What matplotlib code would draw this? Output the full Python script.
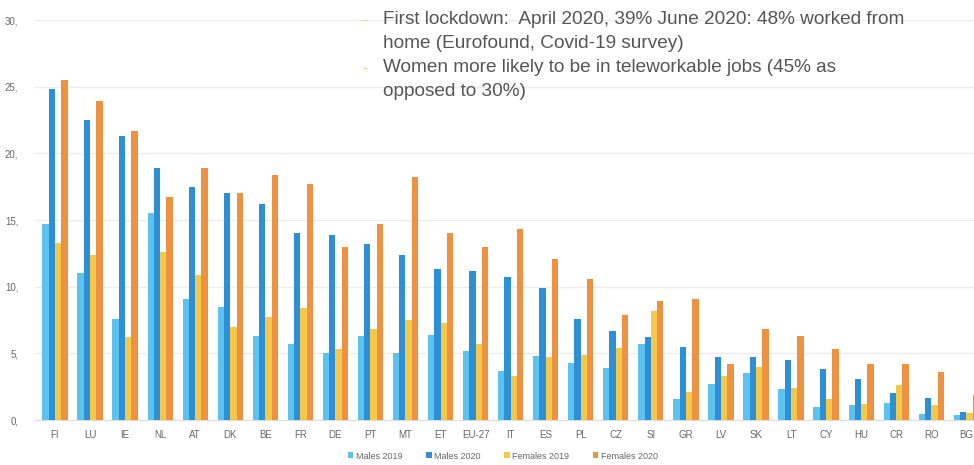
import numpy as np
import matplotlib.pyplot as plt

# Teleworking share by country (%)
countries = ['FI', 'LU', 'IE', 'NL', 'AT', 'DK', 'BE', 'FR', 'DE', 'PT', 'MT', 'ET', 'EU-27',
             'IT', 'ES', 'PL', 'CZ', 'SI', 'GR', 'LV', 'SK', 'LT', 'CY', 'HU', 'CR', 'RO', 'BG']
males_2019 = [14.7, 11.0, 7.6, 15.5, 9.1, 8.5, 6.3, 5.7, 5.0, 6.3, 5.0, 6.4, 5.2,
              3.7, 4.8, 4.3, 3.9, 5.7, 1.6, 2.7, 3.5, 2.3, 1.0, 1.1, 1.3, 0.45, 0.4]
males_2020 = [24.8, 22.5, 21.3, 18.9, 17.5, 17.0, 16.2, 14.0, 13.9, 13.2, 12.4, 11.3, 11.2,
              10.7, 9.9, 7.6, 6.7, 6.2, 5.5, 4.7, 4.7, 4.5, 3.8, 3.1, 2.0, 1.65, 0.6]
females_2019 = [13.3, 12.4, 6.2, 12.6, 10.9, 7.0, 7.7, 8.4, 5.3, 6.8, 7.5, 7.3, 5.7,
                3.3, 4.7, 4.9, 5.4, 8.2, 2.1, 3.3, 4.0, 2.4, 1.6, 1.2, 2.6, 1.1, 0.5]
females_2020 = [25.5, 23.9, 21.7, 16.7, 18.9, 17.0, 18.4, 17.7, 13.0, 14.7, 18.2, 14.0, 13.0,
                14.3, 12.1, 10.6, 7.9, 8.9, 9.1, 4.2, 6.8, 6.3, 5.3, 4.2, 4.2, 3.6, 1.9]
series_names = ['Males 2019', 'Males 2020', 'Females 2019', 'Females 2020']
series_colors = ['#5cc3ee', '#2d8fd6', '#f4c84a', '#ee9140']
y_ticks = [0, 5, 10, 15, 20, 25, 30]

notes = ['First lockdown:  April 2020, 39% June 2020: 48% worked from',
         'home (Eurofound, Covid-19 survey)',
         'Women more likely to be in teleworkable jobs (45% as',
         'opposed to 30%)']

plt.rcParams['font.family'] = ['Liberation Sans', 'DejaVu Sans']

fig = plt.figure(figsize=(9.74, 4.65), dpi=100)
ax = fig.add_axes([35 / 974, 1 - 420 / 465, 1 - 35 / 974, 400 / 465])

x = np.arange(len(countries))
w = 0.18
data = [males_2019, males_2020, females_2019, females_2020]
for i, (vals, name, col) in enumerate(zip(data, series_names, series_colors)):
    ax.bar(x + (i - 1.5) * w, vals, width=w, color=col, label=name, zorder=3)

ax.set_xlim(-0.57, 26.22)
ax.set_ylim(0, 30)
ax.set_yticks(y_ticks)
ax.set_yticklabels([f'{v},' for v in y_ticks])
ax.set_xticks(x)
ax.set_xticklabels(countries)
ax.tick_params(axis='both', length=0, labelsize=7, colors='#666666')
ax.tick_params(axis='x', pad=7)
ax.tick_params(axis='y', pad=12)
ax.grid(axis='y', color='#ececec', linewidth=1, zorder=0)
for s in ['top', 'right', 'left']:
    ax.spines[s].set_visible(False)
ax.spines['bottom'].set_color('#dddddd')

# Bullet notes in the top area
ys = [20, 43, 68, 91]
for txt, yy in zip(notes, ys):
    fig.text(383 / 974, 1 - yy / 465, txt, fontsize=13.7, color='#555555', va='center', ha='left')
for yy in [ys[0], ys[2]]:
    fig.text(362 / 974, 1 - yy / 465, '-', fontsize=11, color='#e0d470', va='center', ha='left')

fig.legend(loc='center', bbox_to_anchor=(503 / 974, 1 - 456 / 465), ncol=4, frameon=False,
           fontsize=6.5, handlelength=0.6, handleheight=0.6, handletextpad=0.3, columnspacing=2.6,
           labelcolor='#666666')

fig.savefig('out.png', dpi=100)
